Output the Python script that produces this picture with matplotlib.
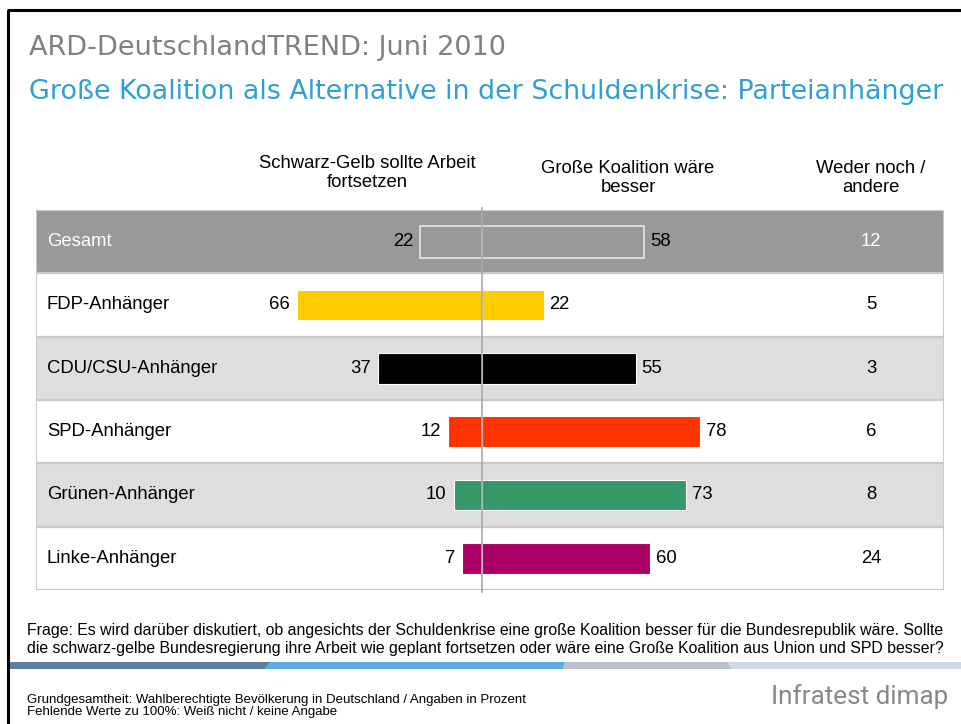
#ARD-DeutschlandTREND Juni 2010: Große Koalition als Alternative

import matplotlib
matplotlib.use('Agg')
import matplotlib.pyplot as plt
from matplotlib.patches import Polygon

#datos de la tabla
gruppen = ['Gesamt', 'FDP-Anhänger', 'CDU/CSU-Anhänger', 'SPD-Anhänger',
           'Grünen-Anhänger', 'Linke-Anhänger']
schwarz_gelb = [22, 66, 37, 12, 10, 7]
grosse_koalition = [58, 22, 55, 78, 73, 60]
weder_noch = [12, 5, 3, 6, 8, 24]
farben = ['#999999', '#ffcc00', '#000000', '#ff3300', '#339966', '#aa0066']
spalten = ['Schwarz-Gelb sollte Arbeit\nfortsetzen', 'Große Koalition wäre\nbesser',
           'Weder noch /\nandere']

W, H = 961, 724
fig = plt.figure(figsize=(W / 100, H / 100), dpi=100)

#eje de fondo en pixeles para marco, textos y franja
bg = fig.add_axes([0, 0, 1, 1])
bg.set_xlim(0, W)
bg.set_ylim(H, 0)
bg.axis('off')

bg.plot([8, 8], [10, H], color='black', lw=2.2, solid_capstyle='butt')
bg.plot([7, W], [10, 10], color='black', lw=2.2, solid_capstyle='butt')

bg.text(29, 48, 'ARD-DeutschlandTREND: Juni 2010', fontsize=19.5, color='#808080',
        family='DejaVu Sans', va='center', ha='left')
bg.text(29, 92, 'Große Koalition als Alternative in der Schuldenkrise: Parteianhänger',
        fontsize=19.35, color='#2e9fd6', family='DejaVu Sans', va='center', ha='left')

txt = dict(family=['Liberation Sans', 'DejaVu Sans'])
bg.text(367, 173, spalten[0], fontsize=13.3, ha='center', va='center', linespacing=1.15, **txt)
bg.text(628, 178, spalten[1], fontsize=13.3, ha='center', va='center', linespacing=1.15, **txt)
bg.text(871, 178, spalten[2], fontsize=13.3, ha='center', va='center', linespacing=1.15, **txt)

bg.text(27, 639.5, 'Frage: Es wird darüber diskutiert, ob angesichts der Schuldenkrise eine große '
        'Koalition besser für die Bundesrepublik wäre. Sollte\ndie schwarz-gelbe '
        'Bundesregierung ihre Arbeit wie geplant fortsetzen oder wäre eine Große Koalition '
        'aus Union und SPD besser?', fontsize=11.4, ha='left', va='center', linespacing=1.27,
        **txt)
bg.text(27, 705.5, 'Grundgesamtheit: Wahlberechtigte Bevölkerung in Deutschland / Angaben in '
        'Prozent\nFehlende Werte zu 100%: Weiß nicht / keine Angabe', fontsize=9.5,
        ha='left', va='center', linespacing=1.0, **txt)
bg.text(948, 704, 'Infratest dimap', fontsize=18.8, color='#888888', ha='right', va='baseline',
        family='Roboto')

#franja de colores
franja = [('#607f9c', 8, 270, 265), ('#5aade0', 270, 565, 563),
          ('#b8c1ca', 565, 728, 732), ('#cfdbe3', 728, W, W)]
prev = 8
for c, x0, x1t, x1b in franja:
    bg.add_patch(Polygon([(x0, 662), (x1t, 662), (x1b, 669), (prev, 669)],
                         closed=True, color=c, lw=0))
    prev = x1b

#tabla con barras divergentes
ax = fig.add_axes([36 / W, 1 - 590 / H, 908 / W, 380 / H])
ax.set_xlim(-159.3, 165.0)
ax.set_ylim(len(gruppen) - 0.5, -0.5)
ax.axis('off')

fondos = ['#999999', '#ffffff', '#dedede', '#ffffff', '#dedede', '#ffffff']
for i in range(len(gruppen)):
    ax.axhspan(i - 0.5, i + 0.5, color=fondos[i], lw=0, zorder=0)
    ax.axhline(i + 0.5, color='#c8c8c8', lw=1.6, zorder=1)
ax.axhline(-0.5, color='#c8c8c8', lw=1.6, zorder=1)
ax.axvline(-159.3, color='#c8c8c8', lw=1.4, zorder=1)
ax.axvline(165.0, color='#c8c8c8', lw=1.4, zorder=1)

for i, g in enumerate(gruppen):
    if i == 0:
        ax.barh(i, -schwarz_gelb[i], height=0.5, color=farben[i], edgecolor='#e6e6e6',
                lw=1.2, zorder=2)
        ax.barh(i, grosse_koalition[i], height=0.5, color=farben[i], edgecolor='#e6e6e6',
                lw=1.2, zorder=2)
        tc = 'white'
    else:
        ax.barh(i, -schwarz_gelb[i], height=0.48, color=farben[i], edgecolor='white',
                lw=0.8, zorder=2)
        ax.barh(i, grosse_koalition[i], height=0.48, color=farben[i], edgecolor='white',
                lw=0.8, zorder=2)
        tc = 'black'
    ax.text(-155.4, i, g, color=tc, fontsize=13.3, ha='left', va='center', **txt)
    ax.text(-schwarz_gelb[i] - 2.6, i, str(schwarz_gelb[i]), fontsize=13.3, ha='right',
            va='center', **txt)
    ax.text(grosse_koalition[i] + 2.0, i, str(grosse_koalition[i]), fontsize=13.3,
            ha='left', va='center', **txt)
    ax.text(138.9, i, str(weder_noch[i]), color=tc, fontsize=13.3, ha='center',
            va='center', **txt)

ax.axvline(0, ymin=-0.006, ymax=1.006, color='#a8a8a8', lw=1.2, zorder=3, clip_on=False)

fig.savefig('out.png', dpi=100)
